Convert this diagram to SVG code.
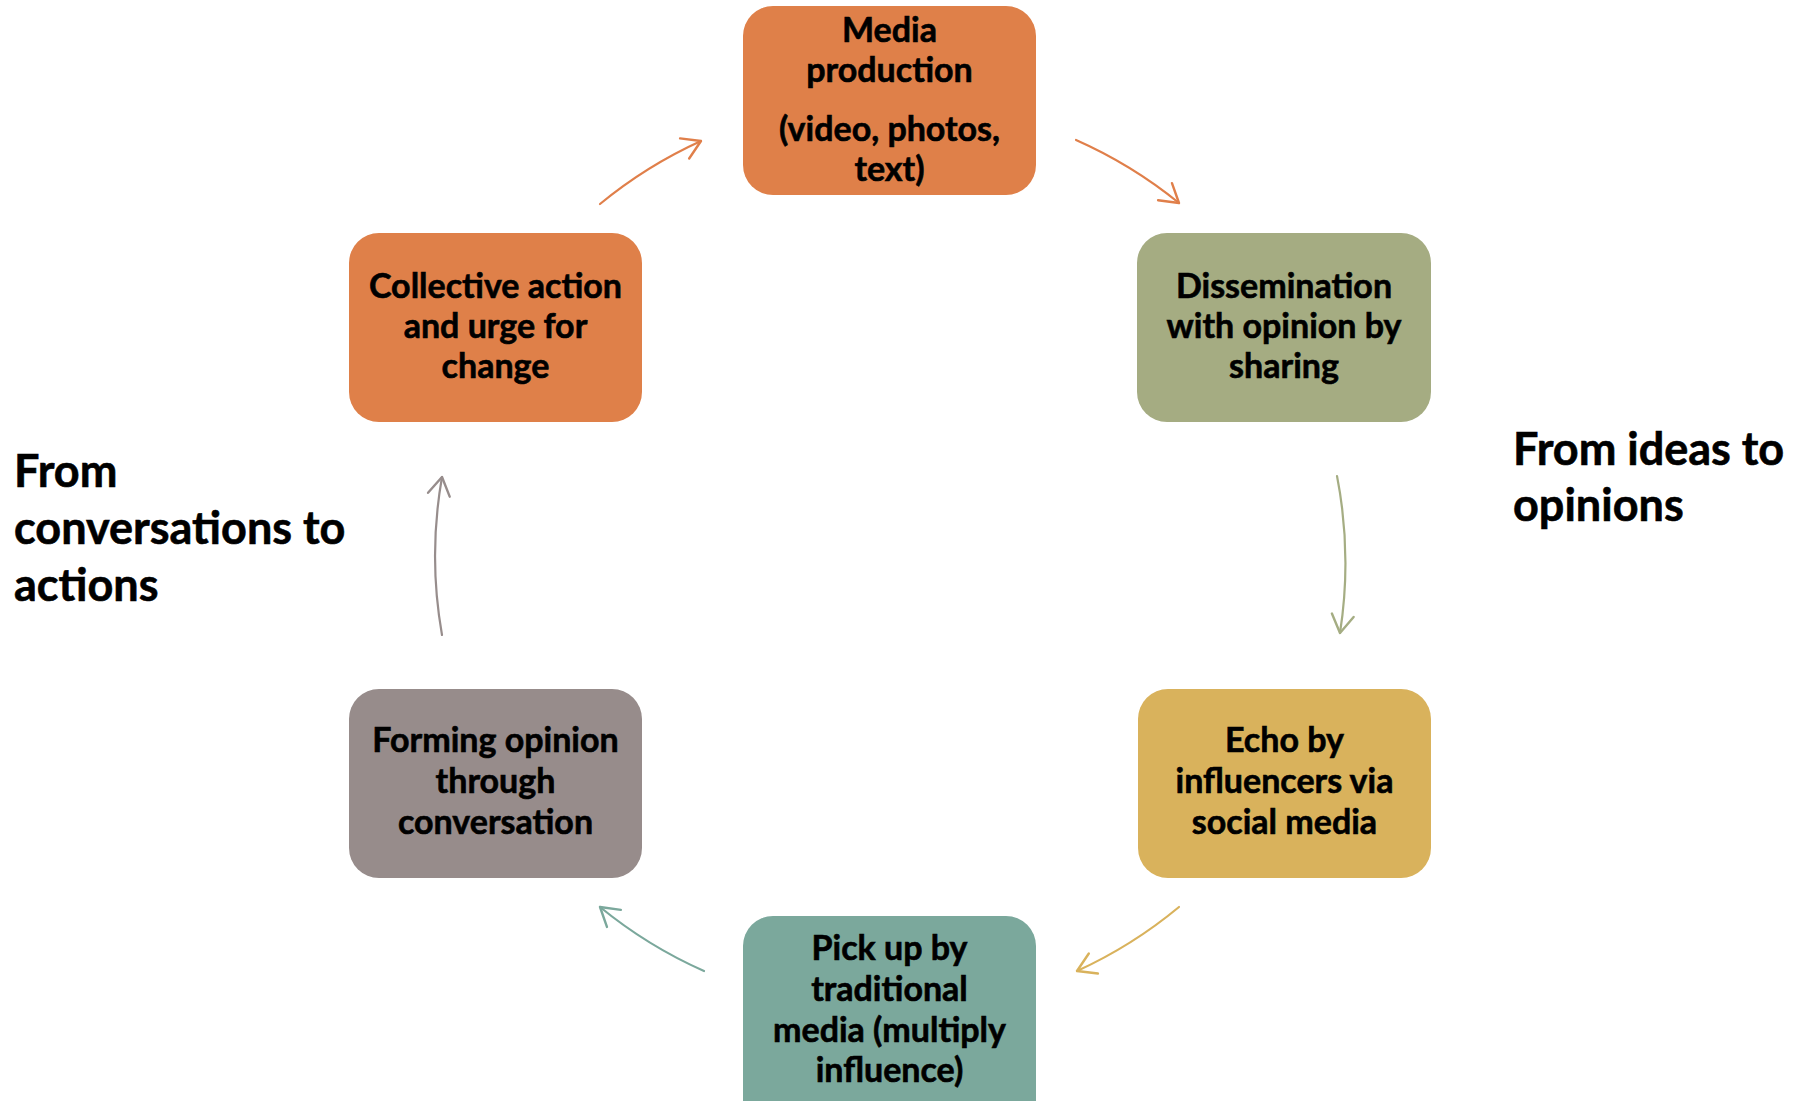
<svg xmlns="http://www.w3.org/2000/svg" width="1800" height="1101" viewBox="0 0 1800 1101">
  <style>
    .box { stroke: none; }
    .t { font-family: Lato, "Open Sans", "Liberation Sans", sans-serif; font-weight: bold; font-size: 34px; fill: #000; stroke: #000; stroke-width: 0.6; text-anchor: middle; }
    .lbl { font-family: Lato, "Open Sans", "Liberation Sans", sans-serif; font-weight: bold; font-size: 45px; fill: #000; stroke: #000; stroke-width: 0.6; }
    .arc { fill: none; stroke-width: 2.2; stroke-linecap: round; }
  </style>
  <defs>
    <marker id="mOrange" viewBox="-22 -14 26 28" markerWidth="26" markerHeight="28" refX="0" refY="0" orient="auto" markerUnits="userSpaceOnUse">
      <path d="M -18 -11 L 0 0 L -18 11" fill="none" stroke="#E07F4A" stroke-width="2.4" stroke-linecap="round" stroke-linejoin="round"/>
    </marker>
    <marker id="mGreen" viewBox="-22 -14 26 28" markerWidth="26" markerHeight="28" refX="0" refY="0" orient="auto" markerUnits="userSpaceOnUse">
      <path d="M -18 -11 L 0 0 L -18 11" fill="none" stroke="#A5AD83" stroke-width="2.4" stroke-linecap="round" stroke-linejoin="round"/>
    </marker>
    <marker id="mGold" viewBox="-22 -14 26 28" markerWidth="26" markerHeight="28" refX="0" refY="0" orient="auto" markerUnits="userSpaceOnUse">
      <path d="M -18 -11 L 0 0 L -18 11" fill="none" stroke="#D9B25C" stroke-width="2.4" stroke-linecap="round" stroke-linejoin="round"/>
    </marker>
    <marker id="mTeal" viewBox="-22 -14 26 28" markerWidth="26" markerHeight="28" refX="0" refY="0" orient="auto" markerUnits="userSpaceOnUse">
      <path d="M -18 -11 L 0 0 L -18 11" fill="none" stroke="#7BA89C" stroke-width="2.4" stroke-linecap="round" stroke-linejoin="round"/>
    </marker>
    <marker id="mGray" viewBox="-22 -14 26 28" markerWidth="26" markerHeight="28" refX="0" refY="0" orient="auto" markerUnits="userSpaceOnUse">
      <path d="M -18 -11 L 0 0 L -18 11" fill="none" stroke="#978D8C" stroke-width="2.4" stroke-linecap="round" stroke-linejoin="round"/>
    </marker>
  </defs>
  <rect width="1800" height="1101" fill="#ffffff"/>

  <g id="connectors">
    <path class="arc" stroke="#E07F4A" marker-end="url(#mOrange)" d="M 1076 140 A 455 455 0 0 1 1179 203"/>
    <path class="arc" stroke="#A5AD83" marker-end="url(#mGreen)" d="M 1337 476 A 455 455 0 0 1 1340 633"/>
    <path class="arc" stroke="#D9B25C" marker-end="url(#mGold)" d="M 1179 907 A 455 455 0 0 1 1077 971"/>
    <path class="arc" stroke="#7BA89C" marker-end="url(#mTeal)" d="M 704 971 A 455 455 0 0 1 600 907"/>
    <path class="arc" stroke="#978D8C" marker-end="url(#mGray)" d="M 442 635 A 455 455 0 0 1 442 477"/>
    <path class="arc" stroke="#E07F4A" marker-end="url(#mOrange)" d="M 600 204 A 455 455 0 0 1 701 141"/>
  </g>

  <g id="node-media">
    <rect class="box" x="743" y="6" width="293" height="189" rx="30" ry="30" fill="#DF8049"/>
    <text class="t" x="889.5" y="42">Media</text>
    <text class="t" x="889.5" y="82">production</text>
    <text class="t" x="889.5" y="141">(video, photos,</text>
    <text class="t" x="889.5" y="181">text)</text>
  </g>

  <g id="node-dissemination">
    <rect class="box" x="1137" y="233" width="294" height="189" rx="30" ry="30" fill="#A5AC82"/>
    <text class="t" x="1284" y="298">Dissemination</text>
    <text class="t" x="1284" y="338">with opinion by</text>
    <text class="t" x="1284" y="378">sharing</text>
  </g>

  <g id="node-echo">
    <rect class="box" x="1138" y="689" width="293" height="189" rx="30" ry="30" fill="#D9B25C"/>
    <text class="t" x="1284.5" y="752">Echo by</text>
    <text class="t" x="1284.5" y="793">influencers via</text>
    <text class="t" x="1284.5" y="834">social media</text>
  </g>

  <g id="node-pickup">
    <rect class="box" x="743" y="916" width="293" height="220" rx="30" ry="30" fill="#7BA89C"/>
    <text class="t" x="889.5" y="960">Pick up by</text>
    <text class="t" x="889.5" y="1001">traditional</text>
    <text class="t" x="889.5" y="1042">media (multiply</text>
    <text class="t" x="889.5" y="1082">influence)</text>
  </g>

  <g id="node-forming">
    <rect class="box" x="349" y="689" width="293" height="189" rx="30" ry="30" fill="#978C8B"/>
    <text class="t" x="495.5" y="752">Forming opinion</text>
    <text class="t" x="495.5" y="793">through</text>
    <text class="t" x="495.5" y="834">conversation</text>
  </g>

  <g id="node-collective">
    <rect class="box" x="349" y="233" width="293" height="189" rx="30" ry="30" fill="#DF8049"/>
    <text class="t" x="495.5" y="298">Collective action</text>
    <text class="t" x="495.5" y="338">and urge for</text>
    <text class="t" x="495.5" y="378">change</text>
  </g>

  <g id="label-right">
    <text class="lbl" x="1513" y="465">From ideas to</text>
    <text class="lbl" x="1513" y="521">opinions</text>
  </g>

  <g id="label-left">
    <text class="lbl" x="14" y="487">From</text>
    <text class="lbl" x="14" y="544">conversations to</text>
    <text class="lbl" x="14" y="601">actions</text>
  </g>
</svg>
